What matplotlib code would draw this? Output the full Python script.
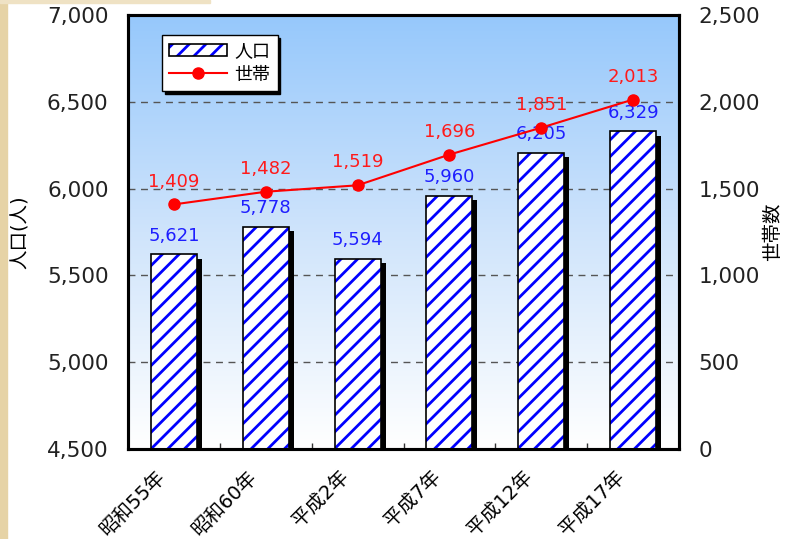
import numpy as np
import matplotlib
matplotlib.use('Agg')
import matplotlib.pyplot as plt
import matplotlib.transforms as mtransforms
from matplotlib.colors import LinearSegmentedColormap
from matplotlib.patches import Rectangle, Patch
from matplotlib.lines import Line2D

plt.rcParams['font.family'] = ['DejaVu Sans', 'Noto Sans CJK JP']
plt.rcParams['hatch.linewidth'] = 2.0

# data
years = ['昭和55年', '昭和60年', '平成2年', '平成7年', '平成12年', '平成17年']
population = [5621, 5778, 5594, 5960, 6205, 6329]
households = [1409, 1482, 1519, 1696, 1851, 2013]
left_ticks = [4500, 5000, 5500, 6000, 6500, 7000]
right_ticks = [0, 500, 1000, 1500, 2000, 2500]

fig = plt.figure(figsize=(7.93, 5.39), dpi=100)
fig.patch.set_facecolor('white')
# beige paper strip on the left and top edge
fig.patches.append(Rectangle((0, 0), 7 / 793, 1, transform=fig.transFigure, color='#e6d3a6', zorder=0))
fig.patches.append(Rectangle((0, 1 - 3 / 539), 210 / 793, 3 / 539, transform=fig.transFigure,
                             color='#efe2c4', zorder=0))

ax = fig.add_axes([128 / 793, 90 / 539, 551 / 793, 434 / 539])
x = np.arange(len(years))

# gradient background
cmap = LinearSegmentedColormap.from_list('bg', ['#ffffff', '#cfe4fb', '#96c8fc'])
grad = np.linspace(0, 1, 256).reshape(-1, 1)
ax.imshow(grad, cmap=cmap, origin='lower', extent=[0, 1, 0, 1], transform=ax.transAxes,
          aspect='auto', zorder=-1)

# shadows of the bars
ax.bar(x + 0.055, np.array(population) - 25, width=0.5, bottom=0, color='black', zorder=2)
ax.bar(x, population, width=0.5, color='white', edgecolor='#0000ff', hatch='//', linewidth=0, zorder=3)
ax.bar(x, population, width=0.5, color='none', edgecolor='black', linewidth=1.2, zorder=4)

for xi, v in zip(x, population):
    ax.annotate(f'{v:,}', (xi, v), xytext=(0, 7), textcoords='offset points', ha='center', va='bottom',
                color='#1e1eff', fontsize=13, zorder=5)

ax.set_xlim(-0.5, len(years) - 0.5)
ax.set_ylim(4500, 7000)
ax.set_yticks(left_ticks)
ax.set_yticklabels([f'{t:,}' for t in left_ticks], fontsize=15.5, color='#222222')
ax.tick_params(axis='y', length=0, pad=14)
ax.set_xticks(x)
ax.set_xticklabels(years, rotation=45, ha='right', rotation_mode='anchor', fontsize=14)
ax.tick_params(axis='x', length=0, pad=13)
shift = mtransforms.ScaledTranslation(-0.18, 0, fig.dpi_scale_trans)
for lbl in ax.get_xticklabels():
    lbl.set_transform(lbl.get_transform() + shift)
ax.set_xticks(np.arange(0.5, len(years) - 1, 1), minor=True)
ax.tick_params(axis='x', which='minor', direction='in', length=4, width=1, color='#333333')
ax.set_axisbelow(True)
ax.grid(axis='y', linestyle=(0, (5, 4)), color='#555555', linewidth=1)
ax.set_ylabel('人口(人)', fontsize=14)
ax.yaxis.set_label_coords(-0.178, 0.5)
for s in ax.spines.values():
    s.set_linewidth(2.2)

ax2 = ax.twinx()
ax2.plot(x, households, color='#ff0000', lw=1.5, marker='o', ms=8, zorder=6)
for xi, v in zip(x, households):
    ax2.annotate(f'{v:,}', (xi, v), xytext=(0, 10), textcoords='offset points', ha='center', va='bottom',
                 color='#ff1a1a', fontsize=13, zorder=7)
ax2.set_ylim(0, 2500)
ax2.set_yticks(right_ticks)
ax2.set_yticklabels([f'{t:,}' for t in right_ticks], fontsize=15.5, color='#222222')
ax2.tick_params(axis='y', length=0, pad=14)
ax2.set_ylabel('世帯数', fontsize=14)
ax2.yaxis.set_label_coords(1.152, 0.5)
for s in ax2.spines.values():
    s.set_linewidth(2.2)

h_pop = (Patch(facecolor='white', edgecolor='#0000ff', hatch='//', linewidth=0),
         Patch(facecolor='none', edgecolor='black', linewidth=1.2))
h_hh = Line2D([], [], color='#ff0000', lw=1.5, marker='o', ms=8)
leg = ax2.legend([h_pop, h_hh], ['人口', '世帯'], loc='upper left', bbox_to_anchor=(0.062, 0.954),
                 borderaxespad=0, fancybox=False, framealpha=1, edgecolor='black', fontsize=13,
                 shadow={'color': 'black', 'alpha': 1}, handlelength=3.2, handletextpad=0.4,
                 labelspacing=0.3, borderpad=0.4)
leg.get_frame().set_linewidth(1)

plt.savefig('out.png', dpi=100)
